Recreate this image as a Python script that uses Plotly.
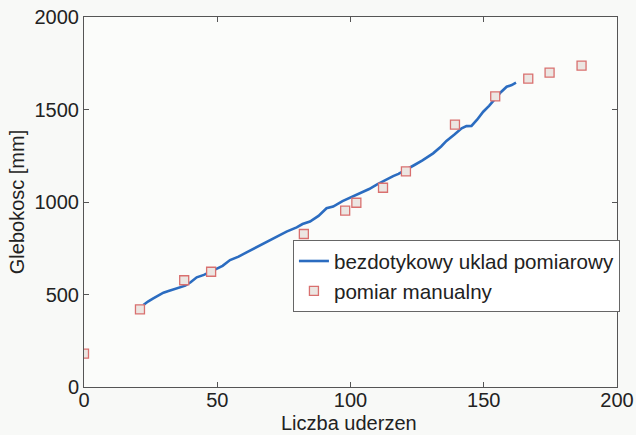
import plotly.graph_objects as go

# Continuous (non-contact) measurement: blows vs depth [mm]
line_x = [22.3, 24, 26, 28, 29.8, 32, 34, 36, 38, 40, 42.3, 45, 47.3, 50, 52, 54.8, 58, 61, 64, 67.3,
          70, 73, 76, 79.8, 82, 84.8, 88, 91, 93.5, 97, 100, 103.5, 107, 110, 112.3, 116, 118, 120.8,
          124, 127, 131, 134, 136, 139, 141.7, 143.5, 145.4, 147.5, 149.8, 152, 154.8, 156.5, 158.6,
          160.5, 162.1]
line_y = [443, 462, 479, 496, 510, 520, 528, 539, 548, 566, 593, 606, 623, 640, 655, 686, 705, 728, 750, 773,
          795, 815, 840, 863, 881, 894, 925, 966, 975, 1005, 1025, 1047, 1070, 1095, 1114, 1140, 1152, 1173,
          1200, 1225, 1263, 1300, 1330, 1365, 1398, 1410, 1411, 1445, 1488, 1520, 1569, 1595, 1623,
          1632, 1645]

# Manual measurement
manual_x = [0, 21, 37.6, 47.7, 82.5, 98, 102.2, 112.2, 120.8, 139.2, 154.3, 166.7, 174.7, 186.7]
manual_y = [180, 420, 577, 623, 827, 953, 996, 1077, 1166, 1418, 1571, 1667, 1699, 1737]

x_ticks = [0, 50, 100, 150, 200]
y_ticks = [0, 500, 1000, 1500, 2000]
x_title = "Liczba uderzen"
y_title = "Glebokosc [mm]"

fig = go.Figure()
fig.add_trace(go.Scatter(
    x=line_x, y=line_y, mode="lines", name="bezdotykowy uklad pomiarowy",
    line=dict(color="#2b6cc0", width=2.6),
))
fig.add_trace(go.Scatter(
    x=manual_x, y=manual_y, mode="markers", name="pomiar manualny",
    marker=dict(symbol="square", size=9, color="#ece6e2",
                line=dict(color="#d9706f", width=1.3)),
))

font_family = "Liberation Sans, Arial, sans-serif"
txt_color = "#222222"
axis_common = dict(
    showgrid=False, zeroline=False, showline=True, linecolor="#555555", linewidth=1,
    mirror="ticks", ticks="inside", ticklen=5, tickcolor="#555555", automargin=False,
    tickfont=dict(family=font_family, size=20, color=txt_color),
)
fig.update_xaxes(range=[0, 200], tickvals=x_ticks, ticklabelstandoff=-5, **axis_common)
fig.update_yaxes(range=[0, 2000], tickvals=y_ticks, title=dict(text=y_title,
                 font=dict(family=font_family, size=20, color=txt_color), standoff=4), **axis_common)

fig.add_annotation(text=x_title, xref="paper", yref="paper", x=0.497, y=0,
                   xanchor="center", yanchor="top", yshift=-23, showarrow=False,
                   font=dict(family=font_family, size=20, color=txt_color))

fig.update_layout(
    width=636, height=435,
    margin=dict(l=84, r=19, t=17, b=48),
    paper_bgcolor="#f8f9f7", plot_bgcolor="#fbfcfa",
    showlegend=True,
    legend=dict(x=0.392, y=0.397, xanchor="left", yanchor="top",
                bgcolor="#ffffff", bordercolor="#666666", borderwidth=1,
                font=dict(family=font_family, size=20.6, color=txt_color),
                tracegroupgap=0),
)
fig.write_html("out.html", config={"displayModeBar": False},
               post_script="document.body.style.margin='0';document.body.style.padding='0';")
